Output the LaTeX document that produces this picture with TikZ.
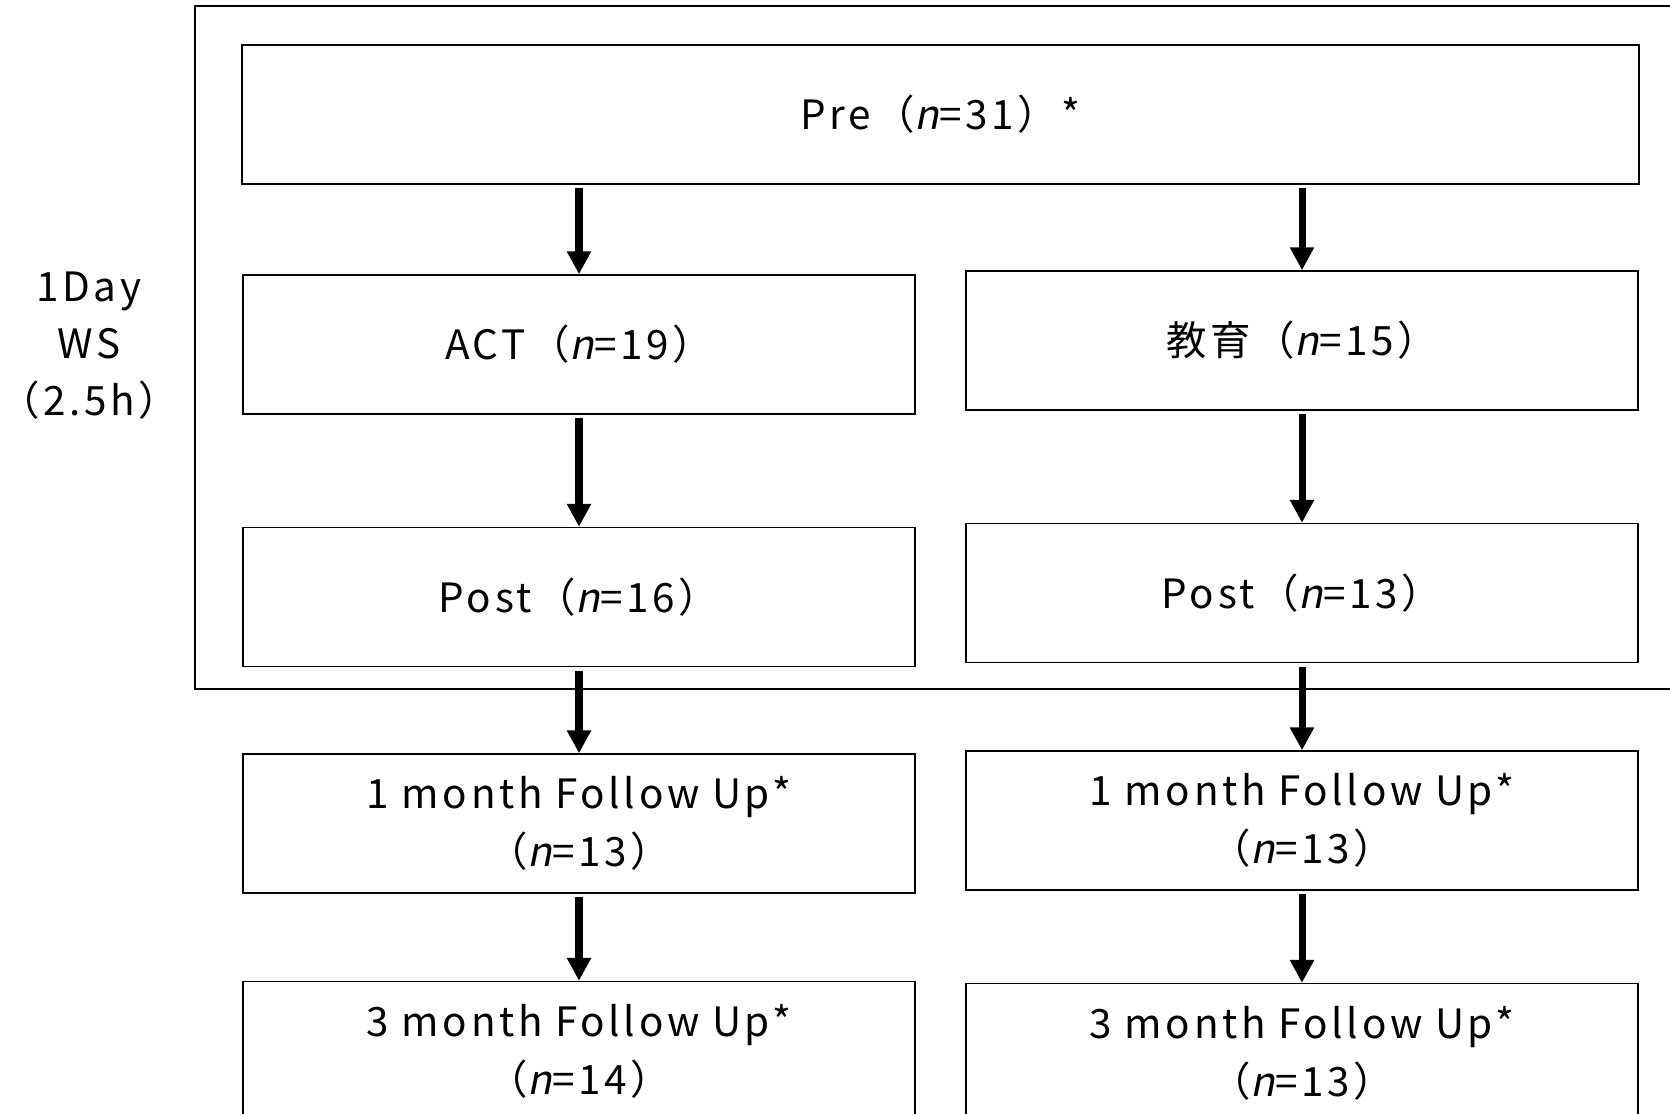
\documentclass[tikz,border=0pt]{standalone}
\usepackage{fontspec}
\setmainfont[LetterSpace=9]{Noto Sans CJK JP}
\newfontfamily\slfont[FakeSlant=0.2,LetterSpace=9]{Noto Sans CJK JP}
\newcommand{\nvar}{{\slfont n}}
\usetikzlibrary{
  arrows.meta,
  positioning,
}

\tikzset{
  box/.style={draw, line width=0.9pt, minimum width=13.44cm, minimum height=2.78cm,
    align=center, inner sep=0pt, font=\fontsize{23}{33}\selectfont},
  flow/.style={line width=4pt, shorten <=2pt, -{Triangle[length=13pt,width=13pt]}},
}

\begin{document}
\begin{tikzpicture}[x=0.02cm, y=-0.02cm]
\useasboundingbox (0,0) rectangle (1670,1114);
\clip (0,0) rectangle (1670,1114);

% workshop frame
\draw[line width=0.9pt] (195,6) rectangle (1700,689);
\node[align=center, font=\fontsize{23}{32.5}\selectfont] (ws) at (89,346) {1Day\\WS\\（2.5h）};

\node[box, minimum width=27.94cm] (pre) at (940.5,114.5) {Pre（\nvar=31）*};

% left arm
\node[box] (act) at (579,344.5) {ACT（\nvar=19）};
\node[box, below=2.24cm of act] (postl) {Post（\nvar=16）};
\node[box, below=1.72cm of postl] (fu1l) {1 month Follow Up*\\（\nvar=13）};
\node[box, below=1.74cm of fu1l] (fu3l) {3 month Follow Up*\\（\nvar=14）};

% right arm
\node[box] (edu) at (1302,340.5) {教育（\nvar=15）};
\node[box, below=2.24cm of edu] (postr) {Post（\nvar=13）};
\node[box, below=1.74cm of postr] (fu1r) {1 month Follow Up*\\（\nvar=13）};
\node[box, below=1.84cm of fu1r] (fu3r) {3 month Follow Up*\\（\nvar=13）};

\draw[flow] (act.north |- pre.south) -- (act);
\draw[flow] (act) -- (postl);
\draw[flow] (postl) -- (fu1l);
\draw[flow] (fu1l) -- (fu3l);

\draw[flow] (edu.north |- pre.south) -- (edu);
\draw[flow] (edu) -- (postr);
\draw[flow] (postr) -- (fu1r);
\draw[flow] (fu1r) -- (fu3r);
\end{tikzpicture}
\end{document}
